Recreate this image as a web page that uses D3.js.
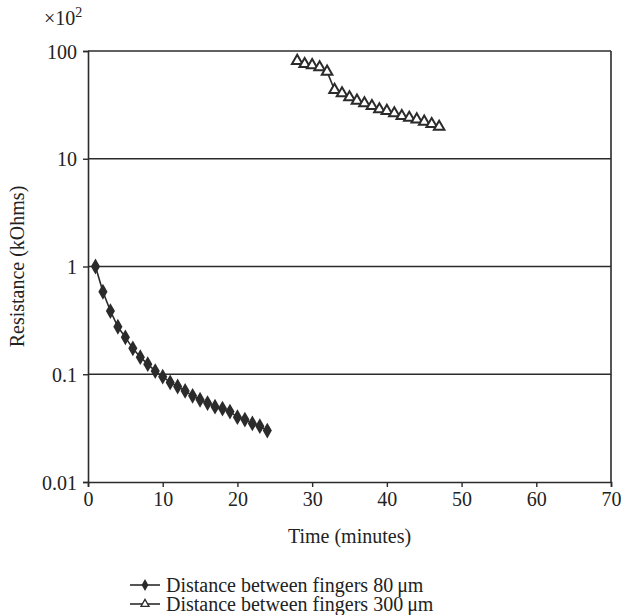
<!DOCTYPE html>
<html><head><meta charset="utf-8">
<script src="https://cdn.jsdelivr.net/npm/d3@7"></script>
<style>body{margin:0;background:#fff}svg{display:block}text{font-family:"Liberation Serif","DejaVu Serif",serif;fill:#222}</style>
</head><body><svg id="c" width="621" height="615"></svg>
<script>
const timeA = [1,2,3,4,5,6,7,8,9,10,11,12,13,14,15,16,17,18,19,20,21,22,23,24];
const resA = [1.0,0.583,0.386,0.276,0.220,0.174,0.144,0.124,0.107,0.095,0.084,0.077,0.070,0.063,0.058,0.054,0.050,0.048,0.045,0.040,0.038,0.035,0.033,0.030];
const timeB = [28,29,30,31,32,33,34,35,36,37,38,39,40,41,42,43,44,45,46,47];
const resB = [81,75.7,74,70.6,64.3,43.5,40.5,37.2,34.6,32.7,30.9,28.8,27.8,26.4,24.9,24.0,23.2,22.1,21.0,19.8];
const xTicks = [0,10,20,30,40,50,60,70];
const yTicks = [0.01,0.1,1,10,100];
const yTickLabels = ["0.01","0.1","1","10","100"];
const seriesNames = ["Distance between fingers 80\u2009\u03bcm","Distance between fingers 300\u2009\u03bcm"];

const svg = d3.select("#c");
const L=88,R=611,T=51,B=482;
const FS=20;
const x = d3.scaleLinear().domain([0,70]).range([L,R]);
const y = d3.scaleLog().domain([0.01,100]).range([B,T]);
const col="#2b2b2b";

svg.append("g").selectAll("line").data(yTicks.filter(v=>v>0.01)).join("line")
  .attr("x1",L).attr("x2",R).attr("y1",d=>y(d)).attr("y2",d=>y(d))
  .attr("stroke",col).attr("stroke-width",1.6);
svg.append("line").attr("x1",R).attr("x2",R).attr("y1",T).attr("y2",B).attr("stroke",col).attr("stroke-width",1.6);

const xAxis = svg.append("g").attr("transform",`translate(0,${B})`)
  .call(d3.axisBottom(x).tickValues(xTicks).tickSize(5).tickPadding(5));
const yAxis = svg.append("g").attr("transform",`translate(${L},0)`)
  .call(d3.axisLeft(y).tickValues(yTicks).tickFormat((d,i)=>yTickLabels[i]).tickSize(5).tickPadding(6));
[xAxis,yAxis].forEach(g=>{
  g.select(".domain").attr("stroke",col).attr("stroke-width",1.6);
  g.selectAll(".tick line").attr("stroke",col).attr("stroke-width",1.4);
  g.selectAll("text").attr("font-family",'"Liberation Serif",serif').attr("font-size",FS).attr("fill","#222");
});
yAxis.selectAll("text").attr("dy","0.35em");

const ex = svg.append("text").attr("x",44).attr("y",25).attr("font-size",FS);
ex.append("tspan").text("\u00d710");
ex.append("tspan").attr("dy",-8).attr("font-size",14).text("2");

svg.append("text").attr("x",(L+R)/2).attr("y",543).attr("text-anchor","middle").attr("font-size",FS).text("Time (minutes)");
svg.append("text").attr("transform",`translate(24,${(T+B)/2}) rotate(-90)`).attr("text-anchor","middle").attr("font-size",FS).text("Resistance (kOhms)");

const line = d3.line().x(d=>x(d[0])).y(d=>y(d[1]));
const dA = timeA.map((t,i)=>[t,resA[i]]);
const dB = timeB.map((t,i)=>[t,resB[i]]);
svg.append("path").attr("d",line(dA)).attr("fill","none").attr("stroke",col).attr("stroke-width",1.6);
svg.append("path").attr("d",line(dB)).attr("fill","none").attr("stroke",col).attr("stroke-width",1.6);

const diamond = d3.symbol().type(d3.symbolDiamond).size(72);
const tri = d3.symbol().type(d3.symbolTriangle).size(48);
svg.append("g").selectAll("path").data(dA).join("path")
  .attr("transform",d=>`translate(${x(d[0])},${y(d[1])})`).attr("d",diamond).attr("fill",col);
svg.append("g").selectAll("path").data(dB).join("path")
  .attr("transform",d=>`translate(${x(d[0])},${y(d[1])})`).attr("d",tri).attr("fill","#fff").attr("stroke",col).attr("stroke-width",2);

const lg = svg.append("g");
[0,1].forEach(i=>{
  const yy = 585 + i*19;
  lg.append("line").attr("x1",130).attr("x2",160).attr("y1",yy).attr("y2",yy).attr("stroke",col).attr("stroke-width",1.6);
  lg.append("path").attr("transform",`translate(145,${yy})`)
    .attr("d", i===0 ? d3.symbol().type(d3.symbolDiamond).size(40)() : d3.symbol().type(d3.symbolTriangle).size(28)())
    .attr("fill", i===0?col:"#fff").attr("stroke",col).attr("stroke-width",i===0?0:1.3);
  lg.append("text").attr("x",166).attr("y",yy).attr("dy","0.33em").attr("font-size",FS).text(seriesNames[i]);
});
</script></body></html>
